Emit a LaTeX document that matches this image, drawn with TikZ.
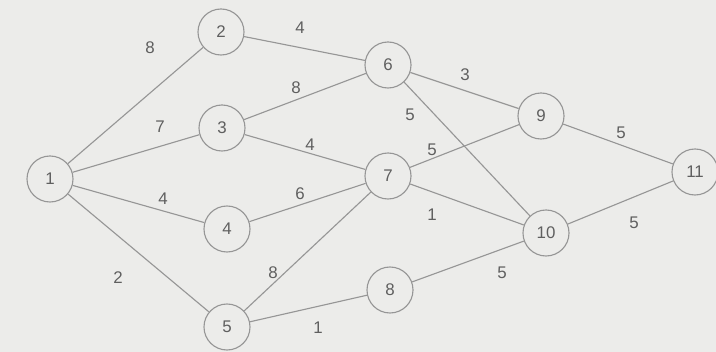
\documentclass[tikz,border=0pt]{standalone}
\usepackage{fontspec}
\setmainfont{Liberation Sans}
\usetikzlibrary{positioning}
\definecolor{paper}{RGB}{236,236,234}
\definecolor{ink}{RGB}{95,95,95}
\definecolor{wire}{RGB}{150,150,150}
\tikzset{
vertex/.style={
	% The shape:
	circle,
	% The size:
	minimum size=1.15cm,
	inner sep=0pt,
	% The border:
	thick,
	draw=wire,
	fill=paper,
	% Font
	text=ink,
	font=\large
},
weight/.style={text=ink, font=\large},
road/.style={draw=wire, thick}
}

\begin{document}
\begin{tikzpicture}[x=0.025cm, y=-0.025cm]
			\fill[paper] (0,0) rectangle (716,352);
			\useasboundingbox (0,0) rectangle (716,352);

			\node[vertex] (n1) at (50,179) {1};
			\node[vertex] (n2) at (221,32) {2};
			\node[vertex] (n3) at (222,128) {3};
			\node[vertex] (n4) at (227,229) {4};
			\node[vertex] (n5) at (227,327) {5};
			\node[vertex] (n6) at (388,65) {6};
			\node[vertex] (n7) at (388,176) {7};
			\node[vertex] (n8) at (390,290) {8};
			\node[vertex] (n9) at (541,116) {9};
			\node[vertex] (n10) at (546,233) {10};
			\node[vertex] (n11) at (695,172) {11};

			\draw[road] (n1) -- (n2);
			\draw[road] (n1) -- (n3);
			\draw[road] (n1) -- (n4);
			\draw[road] (n1) -- (n5);
			\draw[road] (n2) -- (n6);
			\draw[road] (n3) -- (n6);
			\draw[road] (n3) -- (n7);
			\draw[road] (n4) -- (n7);
			\draw[road] (n5) -- (n7);
			\draw[road] (n5) -- (n8);
			\draw[road] (n6) -- (n9);
			\draw[road] (n6) -- (n10);
			\draw[road] (n7) -- (n9);
			\draw[road] (n7) -- (n10);
			\draw[road] (n8) -- (n10);
			\draw[road] (n9) -- (n11);
			\draw[road] (n10) -- (n11);

			\node[weight] (w12) at (150,48) {8};
			\node[weight] (w26) at (300,28) {4};
			\node[weight] (w13) at (160,127) {7};
			\node[weight] (w36) at (296,88) {8};
			\node[weight] (w37) at (310,145) {4};
			\node[weight] (w14) at (163,199) {4};
			\node[weight] (w47) at (300,194) {6};
			\node[weight] (w15) at (118,278) {2};
			\node[weight] (w57) at (273,273) {8};
			\node[weight] (w58) at (318,328) {1};
			\node[weight] (w69) at (465,75) {3};
			\node[weight] (w610) at (410,115) {5};
			\node[weight] (w79) at (432,150) {5};
			\node[weight] (w710) at (432,215) {1};
			\node[weight] (w810) at (502,273) {5};
			\node[weight] (w911) at (621,133) {5};
			\node[weight] (w1011) at (634,223) {5};
		\end{tikzpicture}
\end{document}
